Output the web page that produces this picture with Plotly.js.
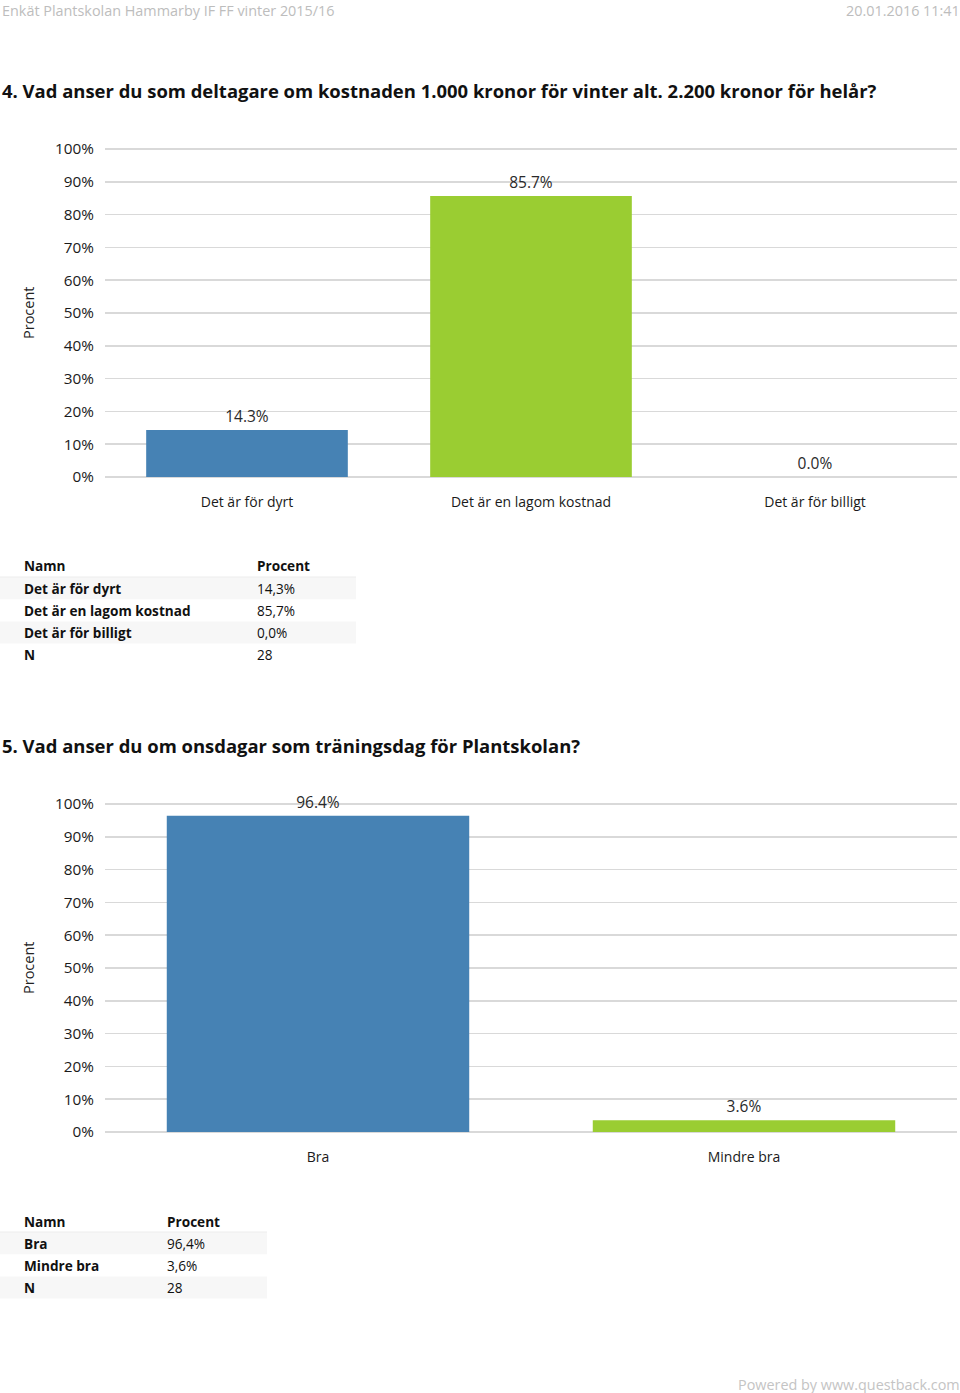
<!DOCTYPE html>
<html>
<head>
<meta charset="utf-8">
<script src="https://cdn.plot.ly/plotly-3.0.1.min.js"></script>
<style>
  html, body { margin: 0; padding: 0; background: #fff; }
  #chart { width: 960px; height: 1393px; }
</style>
</head>
<body>
<div id="chart"></div>
<script>
// ---- Data ----
const headerLeft = 'Enkät Plantskolan Hammarby IF FF vinter 2015/16';
const headerRight = '20.01.2016 11:41';
const footerText = 'Powered by www.questback.com';

const q4Title = '4. Vad anser du som deltagare om kostnaden 1.000 kronor för vinter alt. 2.200 kronor för helår?';
const q4Categories = ['Det är för dyrt', 'Det är en lagom kostnad', 'Det är för billigt'];
const q4Values = [14.3, 85.7, 0.0];
const q4N = 28;

const q5Title = '5. Vad anser du om onsdagar som träningsdag för Plantskolan?';
const q5Categories = ['Bra', 'Mindre bra'];
const q5Values = [96.4, 3.6];
const q5N = 28;

const yTickVals = [0, 10, 20, 30, 40, 50, 60, 70, 80, 90, 100];
const yTickText = yTickVals.map(v => v + '%');
const tableHeaders = ['Namn', 'Procent'];
const yTitle = 'Procent';

// ---- Styling ----
const BLUE = '#4682B4';
const GREEN = '#9ACD32';
const FONT = 'Open Sans, sans-serif';
const W = 960, H = 1393;
const X = px => px / W;
const Y = py => 1 - py / H;
const YMAX = 100.4;

function fmtComma(v) { return v.toFixed(1).replace('.', ',') + '%'; }

const traces = [
  {
    type: 'bar', x: q4Categories, y: q4Values, xaxis: 'x', yaxis: 'y',
    marker: { color: [BLUE, GREEN, BLUE] },
    texttemplate: '%{y:.1f}%', textposition: 'outside', cliponaxis: false,
    textfont: { family: FONT, size: 15.5, color: '#2a2a2a' },
    hoverinfo: 'skip', showlegend: false
  },
  {
    type: 'bar', x: q5Categories, y: q5Values, xaxis: 'x2', yaxis: 'y2',
    marker: { color: [BLUE, GREEN] },
    texttemplate: '%{y:.1f}%', textposition: 'outside', cliponaxis: false,
    textfont: { family: FONT, size: 15.5, color: '#2a2a2a' },
    hoverinfo: 'skip', showlegend: false
  }
];

const yAxisCommon = {
  range: [0, YMAX], tickmode: 'array', tickvals: yTickVals, ticktext: yTickText,
  showgrid: true, gridcolor: '#d9d9d9', gridwidth: 1.5,
  zeroline: true, zerolinecolor: '#d9d9d9', zerolinewidth: 1.5,
  showline: false, ticks: '', ticklabelstandoff: 10,
  tickfont: { family: FONT, size: 15.3, color: '#1a1a1a' }, fixedrange: true
};
const xAxisCommon = {
  domain: [X(105), X(957)], showgrid: false, zeroline: false, showline: false,
  ticks: '', ticklabelstandoff: 15, type: 'category',
  tickfont: { family: FONT, size: 14, color: '#1a1a1a' }, fixedrange: true
};

const annotations = [];
const shapes = [];
function txt(text, px, py, opts) {
  annotations.push(Object.assign({
    text: text, x: X(px), y: Y(py), xref: 'paper', yref: 'paper',
    xanchor: 'left', yanchor: 'middle', showarrow: false,
    font: { family: FONT, size: 14, color: '#111' }
  }, opts || {}));
}

// Header / footer
txt(headerLeft, 0, 10, { font: { family: FONT, size: 14.4, color: '#bdbdbd' } });
txt(headerRight, 962, 10, { xanchor: 'right', font: { family: FONT, size: 14.4, color: '#bdbdbd' } });
txt(footerText, 962, 1384, { xanchor: 'right', font: { family: FONT, size: 14.4, color: '#c4c4c4' } });

// Question titles
txt('<b>' + q4Title + '</b>', 0, 90, { font: { family: FONT, size: 18.45, color: '#111' } });
txt('<b>' + q5Title + '</b>', 0, 745, { font: { family: FONT, size: 18.45, color: '#111' } });

// Y-axis titles
txt(yTitle, 28, 313, { xanchor: 'center', textangle: -90, font: { family: FONT, size: 14.5, color: '#222' } });
txt(yTitle, 28, 968, { xanchor: 'center', textangle: -90, font: { family: FONT, size: 14.5, color: '#222' } });

// Tables
function table(cats, vals, n, top, col2x, width) {
  const rowH = 22.2;
  const rows = cats.map((c, i) => [c, fmtComma(vals[i])]);
  rows.push(['N', String(n)]);
  txt('<b>' + tableHeaders[0] + '</b>', 22, top, { font: { family: FONT, size: 13.6, color: '#111' } });
  txt('<b>' + tableHeaders[1] + '</b>', col2x - 2, top, { font: { family: FONT, size: 13.6, color: '#111' } });
  shapes.push({ type: 'line', xref: 'paper', yref: 'paper', x0: X(0), x1: X(width),
    y0: Y(top + 11), y1: Y(top + 11), line: { color: '#ececec', width: 1 } });
  rows.forEach((r, i) => {
    const cy = top + rowH * (i + 1);
    if (i % 2 === 0) {
      shapes.push({ type: 'rect', xref: 'paper', yref: 'paper', layer: 'below',
        x0: X(0), x1: X(width), y0: Y(cy - 11), y1: Y(cy + 11),
        fillcolor: '#f7f7f7', line: { width: 0 } });
    }
    txt('<b>' + r[0] + '</b>', 22, cy, { font: { family: FONT, size: 13.6, color: '#111' } });
    txt(r[1], col2x - 2, cy, { font: { family: FONT, size: 13.6, color: '#111' } });
  });
}
table(q4Categories, q4Values, q4N, 566, 257, 356);
table(q5Categories, q5Values, q5N, 1221, 167, 267);

// domain so that 0% and 100% fall on the reference pixel rows
function dom(p0, p100) {
  const pxPerUnit = (p0 - p100) / 100;
  return [Y(p0), Y(p0 - pxPerUnit * YMAX)];
}

const layout = {
  width: W, height: H,
  margin: { l: 0, r: 0, t: 0, b: 0 },
  paper_bgcolor: '#fff', plot_bgcolor: '#fff',
  bargap: 0.29,
  xaxis: Object.assign({}, xAxisCommon, { anchor: 'y', range: [-0.5, 2.5] }),
  yaxis: Object.assign({}, yAxisCommon, { anchor: 'x', domain: dom(477, 149) }),
  xaxis2: Object.assign({}, xAxisCommon, { anchor: 'y2', range: [-0.5, 1.5] }),
  yaxis2: Object.assign({}, yAxisCommon, { anchor: 'x2', domain: dom(1132, 804) }),
  annotations: annotations,
  shapes: shapes,
  showlegend: false
};

Plotly.newPlot('chart', traces, layout, { displayModeBar: false, staticPlot: true });
</script>
</body>
</html>
